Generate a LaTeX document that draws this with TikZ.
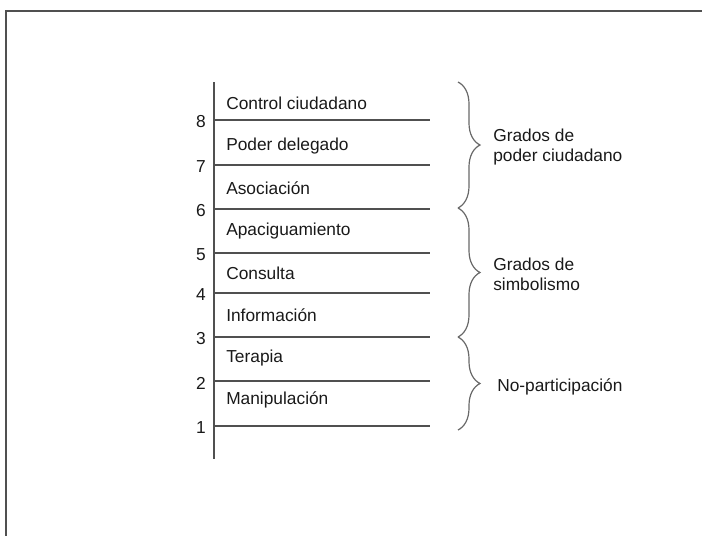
\documentclass[tikz,border=0pt]{standalone}
\usepackage{fontspec}
\setmainfont{Liberation Sans}
\usetikzlibrary{decorations.pathreplacing}

\definecolor{linegray}{RGB}{80,80,80}
\definecolor{bracegray}{RGB}{105,105,105}
\definecolor{textgray}{RGB}{25,25,25}

\begin{document}
\begin{tikzpicture}[x=0.75pt, y=-0.75pt,
	frame/.style={draw=linegray, line width=1.5pt},
	rung/.style={draw=linegray, line width=1.1pt},
	lvl/.style={anchor=east, inner sep=0pt, text=textgray, font=\fontsize{13}{15}\selectfont},
	rungtext/.style={anchor=west, inner sep=0pt, text=textgray, font=\fontsize{13}{15}\selectfont},
	bracket/.style={draw=bracegray, line width=0.9pt, decorate, decoration={brace, amplitude=16.5pt}},
	grado/.style={anchor=west, align=left, inner sep=0pt, text=textgray, font=\fontsize{13}{15}\selectfont}]

	% ---- canvas

	\useasboundingbox (0,0) rectangle (702,536);
	\draw[frame] (702,11) -- (6,11) -- (6,536);

	% ---- axis

	\coordinate (top) at (214,82);
	\coordinate (bottom) at (214,459);
	\draw[rung] (top) -- (bottom);

	% ---- rungs and numbers

	\foreach \y [count=\i] in {426,381,337,293,253,209,165,120} {
		\coordinate (L\i) at (214,\y);
		\coordinate (R\i) at (430,\y);
		\draw[rung] (L\i) -- (R\i);
		\node[lvl] (n\i) at (206,\y+2) {\i};
	}

	% ---- rung labels

	\foreach \t/\y [count=\i] in {Manipulación/400, Terapia/358, Información/315,
		Consulta/273, Apaciguamiento/231, Asociación/188,
		Poder delegado/146, Control ciudadano/103} {
		\node[rungtext] (t\i) at (226,\y) {\t};
	}

	% ---- braces

	\coordinate (B0) at (458,82);
	\coordinate (B1) at (458,208);
	\coordinate (B2) at (458,337);
	\coordinate (B3) at (458,430);

	\draw[bracket] (B0) -- (B1);
	\draw[bracket] (B1) -- (B2);
	\draw[bracket] (B2) -- (B3);

	% ---- group labels

	\node[grado] (poder) at (493,147) {Grados de\\poder ciudadano};
	\node[grado] (simbolo) at (493,274) {Grados de\\simbolismo};
	\node[grado] (nopart) at (497,387) {No-participación};

\end{tikzpicture}
\end{document}
